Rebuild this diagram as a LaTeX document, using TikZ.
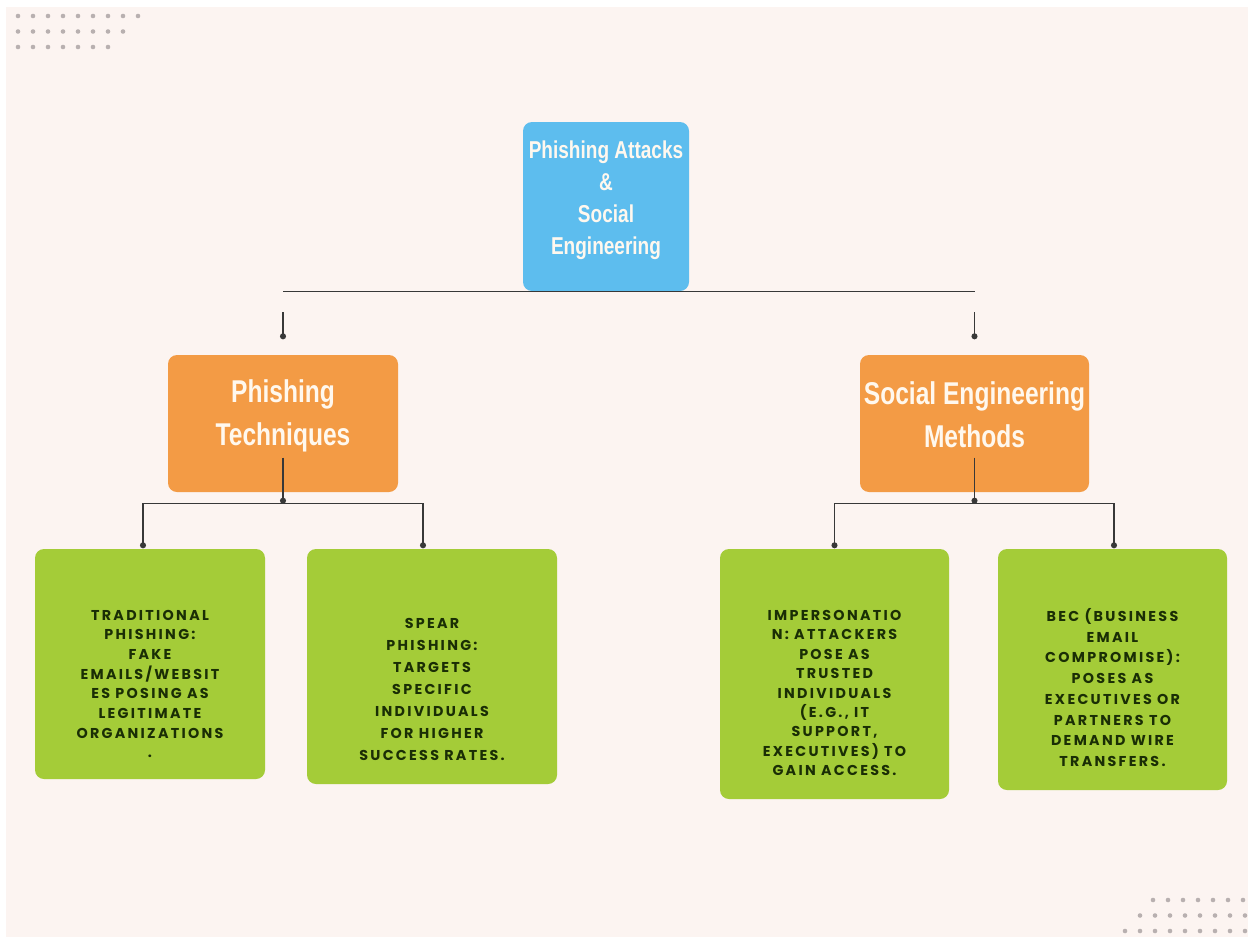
\documentclass[tikz,border=0pt]{standalone}
\usepackage{fontspec}
\setmainfont{Liberation Sans}
\newfontfamily\headfont[FakeStretch=0.78]{Liberation Sans}
\newfontfamily\boxfont[LetterSpace=16]{Poppins}
\usetikzlibrary{arrows.meta,calc}
\definecolor{pagebg}{HTML}{FCF4F1}
\definecolor{skyblue}{HTML}{5DBDEE}
\definecolor{orangebox}{HTML}{F39B45}
\definecolor{limebox}{HTML}{A4CC38}
\definecolor{darktext}{HTML}{1A2E05}
\definecolor{dotgray}{HTML}{B8B0B0}
\definecolor{linegray}{HTML}{383838}
\definecolor{creamwhite}{HTML}{FFF8EE}

\begin{document}
\begin{tikzpicture}[x=1pt,y=-1pt,>={Circle[length=6pt]},line width=1.4pt,
 box/.style={rounded corners=9pt,inner sep=0pt},
 headtext/.style 2 args={text=creamwhite,align=center,inner sep=0pt,
   font=\headfont\bfseries\fontsize{#1}{#2}\selectfont},
 greentext/.style={text=darktext,align=center,inner sep=0pt,
   font=\boxfont\bfseries\fontsize{14.3}{#1}\selectfont},
 greentext/.default=20]
\useasboundingbox (0,0) rectangle (1248,937);
\fill[white] (0,0) rectangle (1248,937);
\fill[pagebg] (6,7) rectangle (1248,937);

% dots in the corners
\foreach \row/\n in {0/9,1/8,2/7}
  \foreach \i in {1,...,\n}
    \fill[dotgray] ({18+15*(\i-1)},{16+15.5*\row}) circle (2.3);
\foreach \row/\n/\s in {0/7/1153,1/8/1140,2/9/1125}
  \foreach \i in {1,...,\n}
    \fill[dotgray] ({\s+15*(\i-1)},{900+15.5*\row}) circle (2.3);

\node[box,fill=skyblue,minimum width=166,minimum height=169] (top) at (606,206.5) {};
\node[box,fill=orangebox,minimum width=230,minimum height=137] (phish) at (283,423.5) {};
\node[box,fill=orangebox,minimum width=229,minimum height=137] (social) at (974.5,423.5) {};
\node[box,fill=limebox,minimum width=230,minimum height=230] (trad) at (150,664) {};
\node[box,fill=limebox,minimum width=250,minimum height=235] (spear) at (432,666.5) {};
\node[box,fill=limebox,minimum width=229,minimum height=250] (imp) at (834.5,674) {};
\node[box,fill=limebox,minimum width=229,minimum height=241] (bec) at (1112.5,669.5) {};

\node[headtext={24.4}{32}] (toptxt) at ([yshift=6]top.center)
  {Phishing Attacks\\ \&\\ Social\\ Engineering};
\node[headtext={31.5}{43}] (phishtxt) at ([yshift=8]phish.center) {Phishing\\ Techniques};
\node[headtext={31.5}{43}] (socialtxt) at ([yshift=9]social.center) {Social Engineering\\ Methods};

\node[greentext={19.7}] (tradtxt) at ([yshift=-20]trad.center)
  {TRADITIONAL\\ PHISHING:\\ FAKE\\ EMAILS/WEBSIT\\ ES POSING AS\\ LEGITIMATE\\ ORGANIZATIONS\\ .};
\node[greentext={22}] (speartxt) at ([yshift=-23]spear.center)
  {SPEAR\\ PHISHING:\\ TARGETS\\ SPECIFIC\\ INDIVIDUALS\\ FOR HIGHER\\ SUCCESS RATES.};
\node[greentext={19.4}] (imptxt) at ([yshift=-19]imp.center)
  {IMPERSONATIO\\ N: ATTACKERS\\ POSE AS\\ TRUSTED\\ INDIVIDUALS\\ (E.G., IT\\ SUPPORT,\\ EXECUTIVES) TO\\ GAIN ACCESS.};
\node[greentext={20.7}] (bectxt) at ([yshift=-18]bec.center)
  {BEC (BUSINESS\\ EMAIL\\ COMPROMISE):\\ POSES AS\\ EXECUTIVES OR\\ PARTNERS TO\\ DEMAND WIRE\\ TRANSFERS.};

\begin{scope}[draw=linegray]
 \draw (phish |- top.south) -- (social |- top.south);
 \coordinate (stubL) at ([yshift=42]phish.north);
 \coordinate (stubR) at ([yshift=42]social.north);
 \draw[->,shorten >=15pt] (stubL) -- (phish.north);
 \draw[->,shorten >=15pt] (stubR) -- (social.north);

 \coordinate (phishIn) at ([yshift=-34]phish.center);
 \coordinate (phishJ) at ([yshift=-11]phish.south);
 \draw[->] (phishIn) -- (phishJ);
 \draw[<->] ([xshift=-7]trad.north) |- ([xshift=-9]spear.north |- phishJ) -- ([xshift=-9]spear.north);

 \coordinate (socialIn) at ([yshift=-34]social.center);
 \coordinate (socialJ) at ([yshift=-11]social.south);
 \draw[->] (socialIn) -- (socialJ);
 \draw[<->] (imp.north) |- ([xshift=1.5]bec.north |- socialJ) -- ([xshift=1.5]bec.north);
\end{scope}
\end{tikzpicture}
\end{document}
